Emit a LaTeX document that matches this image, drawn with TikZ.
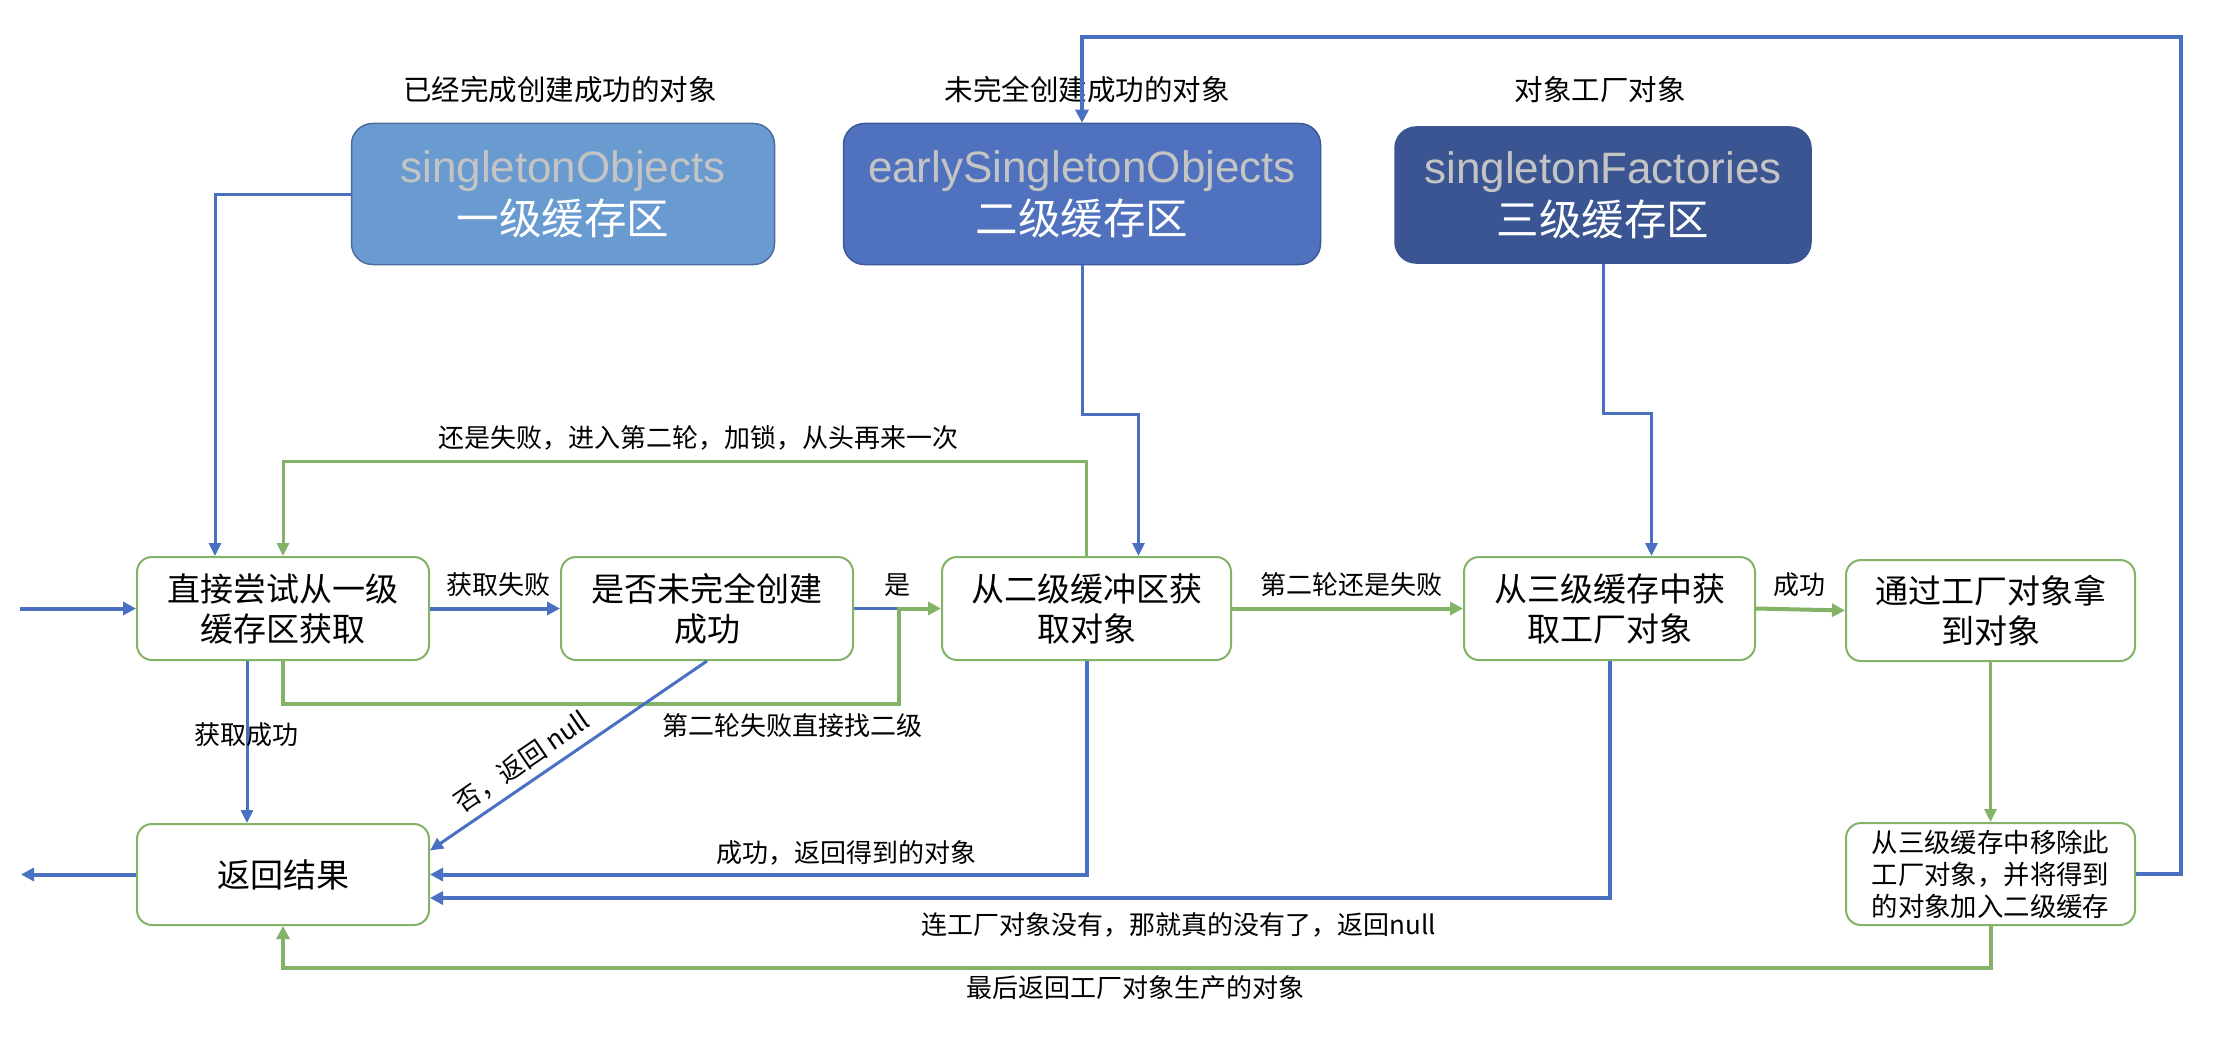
\documentclass[tikz,border=0pt]{standalone}
\usepackage{fontspec}
\setmainfont{Noto Sans CJK SC}
\newfontfamily\latinsans{Liberation Sans}
\usetikzlibrary{arrows.meta}
\definecolor{gline}{HTML}{82B366}
\definecolor{bline}{HTML}{4A70C2}
\definecolor{hdrA}{HTML}{6A9BD0}
\definecolor{hdrAb}{HTML}{4D6E9C}
\definecolor{hdrB}{HTML}{5072BE}
\definecolor{hdrBb}{HTML}{3C5A9A}
\definecolor{hdrC}{HTML}{3A5592}
\definecolor{gtxt}{HTML}{C4C4C4}
\tikzset{
  procbox/.style={draw=gline, line width=2pt, rounded corners=15pt, fill=white,
    inner sep=0pt, align=center, font=\fontsize{33}{40}\selectfont},
  smallbox/.style={procbox, font=\fontsize{26.4}{32}\selectfont},
  hdrbox/.style={rounded corners=21pt, line width=1.5pt, inner sep=0pt, align=center,
    text=white, font=\fontsize{42.5}{52}\selectfont},
  caption/.style={inner sep=0pt, font=\fontsize{28.5}{34}\selectfont},
  lbl/.style={inner sep=0pt, font=\fontsize{26}{30}\selectfont},
  bthin/.style={draw=bline, line width=3pt, -{Triangle[length=13pt,width=12pt]}},
  bthick/.style={draw=bline, line width=4pt, -{Triangle[length=13pt,width=13pt]}},
  gthick/.style={draw=gline, line width=4pt, -{Triangle[length=13pt,width=13pt]}},
  gthin/.style={draw=gline, line width=3pt, -{Triangle[length=13pt,width=12pt]}},
}
\begin{document}
\begin{tikzpicture}[x=1pt,y=-1pt]
\useasboundingbox (0,0) rectangle (2228,1038);
\fill[white] (0,0) rectangle (2228,1038);

% captions
\node[caption] (capA) at (560,90) {已经完成创建成功的对象};
\node[caption] (capB) at (1087,90) {未完全创建成功的对象};
\node[caption] (capC) at (1600,90) {对象工厂对象};

% header boxes
\node[hdrbox, fill=hdrA, draw=hdrAb, minimum width=423pt, minimum height=141pt] (so) at (563,194)
  {{\latinsans\fontsize{44}{52}\selectfont\color{gtxt}singletonObjects}\\一级缓存区};
\node[hdrbox, fill=hdrB, draw=hdrBb, minimum width=477pt, minimum height=141pt] (eso) at (1082,194)
  {{\latinsans\fontsize{44}{52}\selectfont\color{gtxt}earlySingletonObjects}\\二级缓存区};
\node[hdrbox, fill=hdrC, draw=hdrC, minimum width=416pt, minimum height=136pt] (sf) at (1603,195)
  {{\latinsans\fontsize{44}{52}\selectfont\color{gtxt}singletonFactories}\\三级缓存区};

% process boxes
\node[procbox, minimum width=292pt, minimum height=103pt] (A) at (283,608.5) {直接尝试从一级\\缓存区获取};
\node[procbox, minimum width=292pt, minimum height=103pt] (B) at (707,608.5) {是否未完全创建\\成功};
\node[procbox, minimum width=289pt, minimum height=103pt] (C) at (1086.5,608.5) {从二级缓冲区获\\取对象};
\node[procbox, minimum width=291pt, minimum height=103pt] (E) at (1609.5,608.5) {从三级缓存中获\\取工厂对象};
\node[procbox, minimum width=289pt, minimum height=101pt] (F) at (1990.5,610.5) {通过工厂对象拿\\到对象};
\node[procbox, minimum width=292pt, minimum height=101pt] (D) at (283,874.5) {返回结果};
\node[smallbox, minimum width=289pt, minimum height=102pt] (G) at (1990.5,874) {从三级缓存中移除此\\工厂对象，并将得到\\的对象加入二级缓存};

\coordinate (in) at (20,608.5);
\coordinate (out) at (21,874.5);
\coordinate (j) at (899,608.5);

% connectors from caches
\draw[bthin] (so.west) -| ([xshift=-68pt]A.north);
\draw[bthin] (eso.south) -- ++(0,149) -| ([xshift=52pt]C.north);
\draw[bthin] (sf.south) -- ++(0,150) -| ([xshift=42pt]E.north);
\draw[bthick] (G.east) -- ++(45,0) |- ([yshift=86pt]eso.north) -- (eso.north);

% main flow
\draw[bthick] (in) -- (A.west);
\draw[bthick] (D.west) -- (out);
\draw[bthick] (A.east) -- (B.west);
\node[lbl] (l1) at (498,585) {获取失败};
\draw[draw=bline, line width=3pt] (B.east) -- (j);
\draw[gthick] (A.south) -- ++(0,43) -| (j) -- (C.west);
\node[lbl] (l2) at (897,585) {是};
\node[lbl] (l3) at (792,726) {第二轮失败直接找二级};
\draw[gthin] (C.north) -- ++(0,-95) -| (A.north);
\node[lbl] (l4) at (698,438) {还是失败，进入第二轮，加锁，从头再来一次};
\draw[bthin] ([xshift=-36pt]A.south) -- ([xshift=-36pt]D.north);
\node[lbl] (l5) at (246,735) {获取成功};
\draw[bthin] (B.south) -- ([yshift=24pt]D.east);
\node[lbl, rotate=34.4] (l6) at (522,762) {否，返回 null};
\draw[bthick] (C.south) |- (D.east);
\node[lbl] (l7) at (846,853) {成功，返回得到的对象};
\draw[bthick] (E.south) |- ([yshift=-23.5pt]D.east);
\node[lbl] (l8) at (1179,925) {连工厂对象没有，那就真的没有了，返回null};
\draw[gthick] (C.east) -- (E.west);
\node[lbl] (l9) at (1351,585) {第二轮还是失败};
\draw[gthick] (E.east) -- (F.west);
\node[lbl] (l10) at (1799,585) {成功};
\draw[gthin] (F.south) -- (G.north);
\draw[gthick] (G.south) -- ++(0,42) -| (D.south);
\node[lbl] (l11) at (1135,988) {最后返回工厂对象生产的对象};
\end{tikzpicture}
\end{document}
